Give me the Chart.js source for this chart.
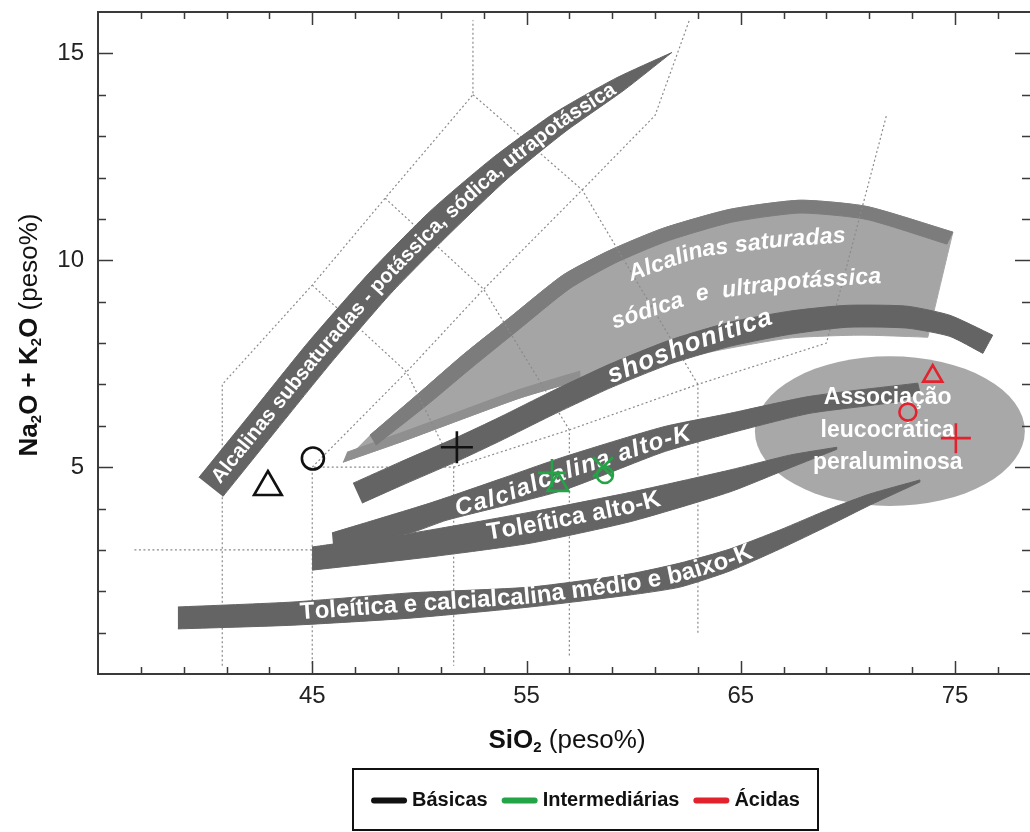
<!DOCTYPE html>
<html>
<head>
<meta charset="utf-8">
<script src="https://cdn.jsdelivr.net/npm/chart.js@4.4.1/dist/chart.umd.min.js"></script>
<style>
  html, body { margin: 0; padding: 0; background: #fff; }
</style>
</head>
<body>
<canvas id="myChart" width="1030" height="832"></canvas>
<script>
// ---- axes ----
const xTickValues = [37, 39, 41, 43, 45, 47, 49, 51, 53, 55, 57, 59, 61, 63, 65, 67, 69, 71, 73, 75, 77];
const xTickLabels = [45, 55, 65, 75];
const yTickValues = [1, 2, 3, 4, 5, 6, 7, 8, 9, 10, 11, 12, 13, 14, 15];
const yTickLabels = [5, 10, 15];

// ---- samples ----
const seriesNames = ['Básicas', 'Intermediárias', 'Ácidas'];
const basicasX = [42.93, 45.03, 51.75];
const basicasY = [4.52, 5.21, 5.48];
const basicasMarker = ['triangle', 'circle', 'cross'];
const intermediariasX = [56.19, 56.47, 58.57, 58.66];
const intermediariasY = [4.86, 4.57, 5.00, 4.81];
const intermediariasMarker = ['cross', 'triangle', 'crossRot', 'circle'];
const acidasX = [73.96, 72.80, 75.04];
const acidasY = [7.20, 6.33, 5.70];
const acidasMarker = ['triangle', 'circle', 'cross'];

// ---- TAS field boundaries (dotted) ----
const tasLines = [
  [[40.8, 0.2], [40.8, 7], [45, 9.4], [48.4, 11.5], [52.5, 14], [52.5, 15.8]],
  [[36.7, 3], [45, 3]],
  [[45, 0.25], [45, 5], [51.6, 5], [51.6, 0.2]],
  [[45, 5], [49.4, 7.3], [53, 9.3], [57.6, 11.7], [61, 13.5], [62.6, 15.8]],
  [[45, 9.4], [49.4, 7.3], [51.6, 5]],
  [[48.4, 11.5], [53, 9.3], [57, 5.9]],
  [[52.5, 14], [57.6, 11.7], [63, 7]],
  [[51.6, 5], [57, 5.9], [63, 7], [69, 8], [71.8, 13.5]],
  [[57, 0.45], [57, 5.9]],
  [[63, 1], [63, 7]]
];

// ---- magmatic series fields (upper / lower edges, left to right) ----
const subsatUpper = [[39.71, 4.75], [42.23, 6.36], [44.80, 8.01], [47.65, 9.69], [50.49, 11.18], [53.39, 12.46], [56.28, 13.55], [59.17, 14.40], [61.78, 15.02]];
const subsatLower = [[40.83, 4.29], [43.35, 5.91], [45.92, 7.55], [48.67, 9.20], [51.43, 10.65], [54.13, 11.98], [56.84, 13.12], [59.55, 14.11], [61.78, 15.02]];

const satRimTop = [[47.69, 5.77], [50.03, 6.81], [52.03, 7.71], [54.23, 8.62], [56.70, 9.64], [58.89, 10.24], [61.36, 10.77], [64.49, 11.23], [67.76, 11.45], [70.88, 11.30], [74.90, 10.68]];
const satRimBottom = [[47.97, 5.53], [50.40, 6.52], [52.41, 7.39], [54.60, 8.31], [57.03, 9.32], [59.12, 9.93], [61.55, 10.46], [64.58, 10.92], [67.76, 11.14], [70.84, 10.99], [74.62, 10.39]];
const satLower = [[46.43, 5.12], [49.09, 5.60], [51.89, 6.14], [54.69, 6.67], [57.49, 7.10], [60.76, 7.46], [64.02, 7.83], [67.29, 8.12], [70.56, 8.19], [73.73, 8.14]];
const satEdgeTop = [[46.62, 5.36], [49.09, 5.82], [51.89, 6.35], [54.69, 6.88], [57.49, 7.32]];
const satEdgeBottom = [[46.43, 5.12], [49.09, 5.60], [51.89, 6.14], [54.69, 6.67], [57.49, 7.10]];

const shoUpper = [[46.90, 4.61], [49.09, 5.12], [51.75, 5.72], [53.76, 6.21], [56.09, 6.81], [58.89, 7.49], [61.69, 8.07], [64.49, 8.50], [67.29, 8.77], [69.95, 8.91], [72.75, 8.89], [74.76, 8.67], [76.76, 8.19]];
const shoLower = [[47.32, 4.13], [49.09, 4.54], [51.75, 5.14], [53.76, 5.63], [56.09, 6.23], [58.89, 6.91], [61.69, 7.49], [64.49, 7.92], [67.29, 8.21], [69.95, 8.38], [72.75, 8.36], [74.76, 8.16], [76.30, 7.75]];

const calcUpper = [[45.92, 3.41], [50.49, 4.13], [53.76, 4.71], [56.70, 5.24], [61.36, 5.97], [64.49, 6.30], [68.22, 6.71], [73.26, 7.03]];
const calcLower = [[45.97, 3.12], [49.56, 3.41], [51.29, 3.72], [56.70, 4.44], [61.36, 5.36], [64.49, 5.82], [68.22, 6.30], [72.42, 6.59], [73.36, 6.81]];

const tolUpper = [[44.99, 3.07], [45.97, 3.14], [49.70, 3.41], [55.16, 3.91], [59.83, 4.39], [64.49, 4.93], [67.29, 5.29], [69.48, 5.48]];
const tolLower = [[44.99, 2.51], [50.49, 2.83], [55.16, 3.16], [59.83, 3.68], [64.49, 4.40], [67.29, 4.98], [69.48, 5.43]];

const lowKUpper = [[38.73, 1.62], [44.10, 1.74], [49.56, 1.96], [55.16, 2.10], [59.83, 2.42], [62.16, 2.68], [64.49, 3.02], [66.82, 3.48], [69.16, 3.99], [71.02, 4.35], [73.36, 4.69]];
const lowKLower = [[38.73, 1.09], [44.10, 1.18], [49.56, 1.35], [55.16, 1.62], [59.83, 1.91], [62.16, 2.10], [64.49, 2.49], [66.82, 3.02], [69.16, 3.60], [71.02, 4.08], [73.36, 4.64]];

const leucoCenter = [71.96, 5.87];
const leucoRadius = [6.30, 1.81];

// ---- label paths (centre lines) ----
const subsatPath = [[40.27, 4.52], [42.79, 6.14], [45.36, 7.78], [48.16, 9.44], [50.96, 10.92], [53.76, 12.22], [56.56, 13.33], [59.36, 14.25], [61.78, 15.02]];
const satLine1Path = [[59.59, 9.61], [63.09, 10.24], [66.82, 10.48], [70.09, 10.60]];
const satLine2Path = [[58.66, 8.43], [63.09, 9.18], [67.29, 9.47], [71.72, 9.61]];
const shoPath = [[58.43, 7.10], [62.62, 7.97], [66.82, 8.70]];
const calcPath = [[45.97, 3.26], [50.49, 3.81], [53.76, 4.27], [56.70, 4.85], [61.36, 5.64], [64.49, 6.06], [68.22, 6.52], [72.89, 6.86]];
const tolPath = [[44.99, 2.80], [49.70, 3.12], [55.16, 3.57], [59.83, 4.04], [64.49, 4.66], [67.29, 5.13], [69.48, 5.46]];
const lowKPath = [[38.73, 1.35], [44.10, 1.47], [49.56, 1.67], [55.16, 1.86], [59.83, 2.17], [62.16, 2.39], [64.49, 2.75], [66.82, 3.25], [69.16, 3.79], [71.02, 4.21]];
const leucoLines = ['Associação', 'leucocrática', 'peraluminosa'];
const leucoLineY = [6.67, 5.89, 5.12];

// ---- styles ----
const FONT = '"Liberation Sans", Arial, sans-serif';
const seriesColors = ['#111111', '#23a446', '#e2232e'];
const DARK = '#646464';

const pathLabels = [
  { text: 'Alcalinas subsaturadas - potássica, sódica, utrapotássica', path: subsatPath, startX: 40.5, font: 'bold 20.5px ' + FONT, spacing: 0 },
  { text: 'Alcalinas saturadas', path: satLine1Path, startX: 59.78, font: 'italic bold 23px ' + FONT, spacing: 0.3 },
  { text: 'sódica  e  ultrapotássica', path: satLine2Path, startX: 59.0, font: 'italic bold 23px ' + FONT, spacing: 0.3 },
  { text: 'shoshonítica', path: shoPath, startX: 58.80, font: 'italic bold 26px ' + FONT, spacing: 1.2 },
  { text: 'Calcialcalina alto-K', path: calcPath, startX: 51.66, font: 'italic bold 24px ' + FONT, spacing: 1.4 },
  { text: 'Toleítica alto-K', path: tolPath, startX: 53.15, font: 'bold 24px ' + FONT, spacing: 0.3 },
  { text: 'Toleítica e calcialcalina médio e baixo-K', path: lowKPath, startX: 44.43, font: 'bold 24px ' + FONT, spacing: 0 }
];

function pts(arr) {
  return arr.map(p => ({ x: p[0], y: p[1] }));
}
// closed outline; corner points doubled so the smoothing keeps the band ends sharp
function polygon(upper, lower) {
  const up = upper.slice();
  const low = lower.slice().reverse();
  return pts([up[0]].concat(up, [up[up.length - 1]], [low[0]], low, [low[low.length - 1]]));
}

const layers = [];
function addShape(data, color, extra) {
  layers.push(Object.assign({
    type: 'line', data: data, fill: 'shape', backgroundColor: color, borderColor: color,
    borderWidth: 1, pointRadius: 0, tension: 0.2
  }, extra || {}));
}
function addDotted(line) {
  layers.push({
    type: 'line', data: pts(line), fill: false, borderColor: '#8a8a8a', borderWidth: 1.2,
    borderDash: [2, 2.5], pointRadius: 0, tension: 0
  });
}
function addSeries(name, xs, ys, markers, radii, color) {
  layers.push({
    type: 'scatter', label: name, data: xs.map((x, i) => ({ x: x, y: ys[i] })),
    pointStyle: markers, pointRadius: radii, pointBorderWidth: 2.6,
    pointBorderColor: color, pointBackgroundColor: 'rgba(0,0,0,0)', showLine: false
  });
}

// drawing order: first pushed = bottom
addShape(polygon(satRimTop, satLower), '#a5a5a5');
addShape(polygon(satEdgeTop, satEdgeBottom), '#8f8f8f');
addShape(polygon(satRimTop, satRimBottom), '#7c7c7c');
tasLines.forEach(addDotted);
addShape(polygon(subsatUpper, subsatLower), DARK);
addShape(polygon(shoUpper, shoLower), DARK);
addShape(polygon(calcUpper, calcLower), DARK);
addShape(polygon(tolUpper, tolLower), DARK);
addShape(polygon(lowKUpper, lowKLower), DARK, { labelsAfter: true });
addSeries(seriesNames[0], basicasX, basicasY, basicasMarker, [16, 11, 16], seriesColors[0]);
addSeries(seriesNames[1], intermediariasX, intermediariasY, intermediariasMarker, [14, 12, 14, 8], seriesColors[1]);
addSeries(seriesNames[2], acidasX, acidasY, acidasMarker, [11, 8.5, 15], seriesColors[2]);
layers.forEach((d, i) => { d.order = layers.length - i; });

// ---- helpers for labels ----
function pointAt(p, cum, d) {
  let i = 0;
  while (i < cum.length - 2 && cum[i + 1] < d) i++;
  const seg = (cum[i + 1] - cum[i]) || 1;
  const t = (d - cum[i]) / seg;
  return [p[i][0] + (p[i + 1][0] - p[i][0]) * t, p[i][1] + (p[i + 1][1] - p[i][1]) * t];
}

function textOnPath(chart, label) {
  const ctx = chart.ctx;
  const xs = chart.scales.x, ys = chart.scales.y;
  const p = label.path.map(q => [xs.getPixelForValue(q[0]), ys.getPixelForValue(q[1])]);
  const cum = [0];
  for (let i = 1; i < p.length; i++) {
    cum.push(cum[i - 1] + Math.hypot(p[i][0] - p[i - 1][0], p[i][1] - p[i - 1][1]));
  }
  const sx = xs.getPixelForValue(label.startX);
  let d = 0;
  for (let i = 0; i < p.length - 1; i++) {
    if (sx >= p[i][0] && sx <= p[i + 1][0]) {
      d = cum[i] + (sx - p[i][0]) / (p[i + 1][0] - p[i][0]) * (cum[i + 1] - cum[i]);
      break;
    }
  }
  ctx.save();
  ctx.font = label.font;
  ctx.fillStyle = '#ffffff';
  ctx.textAlign = 'center';
  ctx.textBaseline = 'middle';
  for (const ch of label.text) {
    const w = ctx.measureText(ch).width + label.spacing;
    const m = d + w / 2;
    const a = pointAt(p, cum, m - 8), b = pointAt(p, cum, m + 8), c = pointAt(p, cum, m);
    ctx.save();
    ctx.translate(c[0], c[1]);
    ctx.rotate(Math.atan2(b[1] - a[1], b[0] - a[0]));
    ctx.fillText(ch, 0, 0);
    ctx.restore();
    d += w;
  }
  ctx.restore();
}

function drawRich(ctx, parts, cx, cy) {
  let total = 0;
  parts.forEach(p => { ctx.font = p[1]; total += ctx.measureText(p[0]).width; });
  let x = cx - total / 2;
  ctx.textAlign = 'left';
  ctx.textBaseline = 'middle';
  parts.forEach(p => {
    ctx.font = p[1];
    ctx.fillText(p[0], x, cy + (p[2] || 0));
    x += ctx.measureText(p[0]).width;
  });
}

const tasPlugin = {
  id: 'tasExtras',
  beforeDatasetsDraw(chart) {
    const ctx = chart.ctx, xs = chart.scales.x, ys = chart.scales.y, a = chart.chartArea;
    const cx = xs.getPixelForValue(leucoCenter[0]);
    const cy = ys.getPixelForValue(leucoCenter[1]);
    const rx = Math.abs(xs.getPixelForValue(leucoCenter[0] + leucoRadius[0]) - cx);
    const ry = Math.abs(ys.getPixelForValue(leucoCenter[1] + leucoRadius[1]) - cy);
    ctx.save();
    ctx.beginPath();
    ctx.rect(a.left, a.top, a.right - a.left, a.bottom - a.top);
    ctx.clip();
    ctx.beginPath();
    ctx.ellipse(cx, cy, rx, ry, 0, 0, Math.PI * 2);
    ctx.fillStyle = '#a8a8a8';
    ctx.fill();
    ctx.restore();
  },
  afterDatasetDraw(chart, args) {
    if (!chart.data.datasets[args.index].labelsAfter) return;
    pathLabels.forEach(l => textOnPath(chart, l));
    const ctx = chart.ctx, xs = chart.scales.x, ys = chart.scales.y;
    ctx.save();
    ctx.font = 'bold 23px ' + FONT;
    ctx.fillStyle = '#ffffff';
    ctx.textAlign = 'center';
    ctx.textBaseline = 'middle';
    leucoLines.forEach((t, i) => {
      ctx.fillText(t, xs.getPixelForValue(leucoCenter[0] - 0.1), ys.getPixelForValue(leucoLineY[i]));
    });
    ctx.restore();
  },
  afterDraw(chart) {
    const ctx = chart.ctx, xs = chart.scales.x, ys = chart.scales.y, a = chart.chartArea;
    ctx.save();
    // inward ticks
    ctx.strokeStyle = '#3a3a3a';
    ctx.lineWidth = 1.5;
    ctx.beginPath();
    xTickValues.forEach(v => {
      const px = Math.round(xs.getPixelForValue(v)) + 0.5;
      const len = xTickLabels.includes(v) ? 13 : 7;
      ctx.moveTo(px, a.bottom); ctx.lineTo(px, a.bottom - len);
      ctx.moveTo(px, a.top); ctx.lineTo(px, a.top + len);
    });
    yTickValues.forEach(v => {
      const py = Math.round(ys.getPixelForValue(v)) + 0.5;
      const len = yTickLabels.includes(v) ? 15 : 8;
      ctx.moveTo(a.left, py); ctx.lineTo(a.left + len, py);
      ctx.moveTo(a.right, py); ctx.lineTo(a.right - len, py);
    });
    ctx.stroke();
    // frame (right side falls outside the picture)
    ctx.lineWidth = 2;
    ctx.beginPath();
    ctx.moveTo(a.right + 2, a.top);
    ctx.lineTo(a.left, a.top);
    ctx.lineTo(a.left, a.bottom);
    ctx.lineTo(a.right + 2, a.bottom);
    ctx.stroke();

    // axis titles
    ctx.fillStyle = '#111';
    drawRich(ctx, [['SiO', 'bold 26px ' + FONT], ['2', 'bold 15px ' + FONT, 7], [' (peso%)', '26px ' + FONT]], 567, 741);
    ctx.save();
    ctx.translate(30, 335);
    ctx.rotate(-Math.PI / 2);
    drawRich(ctx, [
      ['Na', 'bold 26px ' + FONT], ['2', 'bold 15px ' + FONT, 7], ['O + K', 'bold 26px ' + FONT],
      ['2', 'bold 15px ' + FONT, 7], ['O', 'bold 26px ' + FONT], [' (peso%)', '26px ' + FONT]
    ], 0, 0);
    ctx.restore();

    // legend box
    const box = { x: 353, y: 769, w: 465, h: 61 };
    ctx.lineWidth = 2;
    ctx.strokeStyle = '#111';
    ctx.strokeRect(box.x, box.y, box.w, box.h);
    ctx.font = 'bold 20px ' + FONT;
    const seg = 36, gap = 5, itemGap = 14;
    let total = 0;
    seriesNames.forEach((n, i) => { total += seg + gap + ctx.measureText(n).width + (i ? itemGap : 0); });
    let lx = box.x + box.w / 2 - total / 2;
    const ly = box.y + box.h / 2 + 1;
    seriesNames.forEach((n, i) => {
      if (i) lx += itemGap;
      ctx.strokeStyle = seriesColors[i];
      ctx.lineWidth = 6;
      ctx.lineCap = 'round';
      ctx.beginPath();
      ctx.moveTo(lx + 3, ly); ctx.lineTo(lx + seg - 3, ly);
      ctx.stroke();
      ctx.fillStyle = '#111';
      ctx.textAlign = 'left';
      ctx.textBaseline = 'middle';
      ctx.fillText(n, lx + seg + gap, ly);
      lx += seg + gap + ctx.measureText(n).width;
    });
    ctx.restore();
  }
};

const ctx = document.getElementById('myChart').getContext('2d');
const chart = new Chart(ctx, {
  type: 'scatter',
  data: { datasets: layers },
  options: {
    responsive: false,
    animation: false,
    events: [],
    layout: { autoPadding: false, padding: { top: 12, right: 0, bottom: 0, left: 0 } },
    plugins: {
      legend: { display: false },
      tooltip: { enabled: false }
    },
    scales: {
      x: {
        type: 'linear', min: 35, max: 78.5,
        grid: { display: false, drawTicks: false },
        border: { display: false },
        afterBuildTicks: (s) => { s.ticks = xTickValues.map(v => ({ value: v })); },
        afterFit: (s) => { s.height = 158; s.paddingLeft = 0; s.paddingRight = 0; },
        ticks: {
          autoSkip: false, maxRotation: 0, padding: 8, color: '#222',
          font: { family: FONT, size: 24 },
          callback: (v) => xTickLabels.includes(v) ? String(v) : ''
        }
      },
      y: {
        type: 'linear', min: 0, max: 16,
        grid: { display: false, drawTicks: false },
        border: { display: false },
        afterBuildTicks: (s) => { s.ticks = yTickValues.map(v => ({ value: v })); },
        afterFit: (s) => { s.width = 98; s.paddingTop = 0; s.paddingBottom = 0; },
        ticks: {
          autoSkip: false, padding: 14, color: '#222',
          font: { family: FONT, size: 24 },
          callback: (v) => yTickLabels.includes(v) ? String(v) : ''
        }
      }
    }
  },
  plugins: [tasPlugin]
});
</script>
</body>
</html>
